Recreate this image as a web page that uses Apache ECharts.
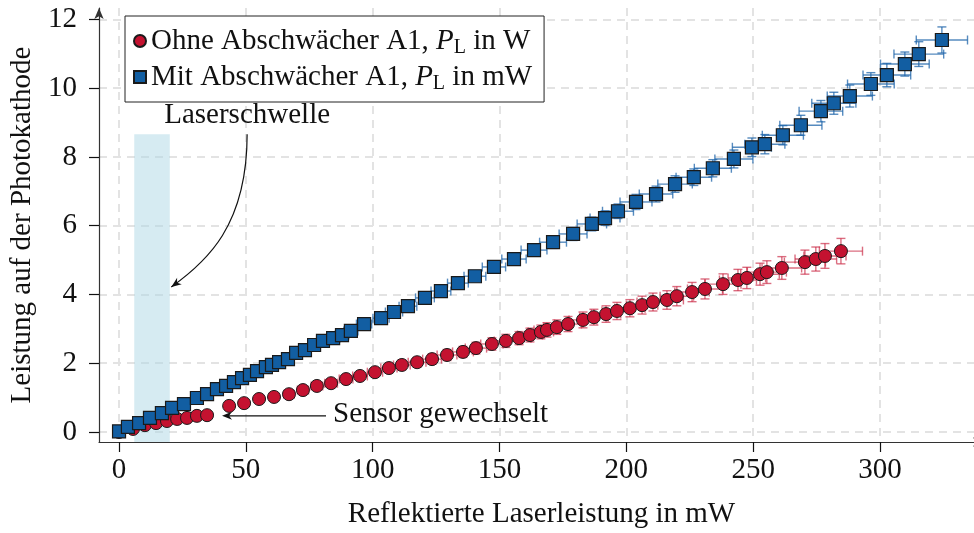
<!DOCTYPE html>
<html>
<head>
<meta charset="utf-8">
<script src="https://cdn.jsdelivr.net/npm/echarts@6/dist/echarts.min.js"></script>
<style>
  html, body { margin: 0; padding: 0; background: #fff; }
  #chart { width: 974px; height: 533px; }
</style>
</head>
<body>
<div id="chart"></div>
<script>
// Measured power on the photocathode vs. reflected laser power
const FONT = '"Liberation Serif", "DejaVu Serif", serif';

// With attenuator A1 (P_L in mW)
const blueX = [0, 3.5, 7.9, 12.2, 16.9, 20.9, 25.6, 30.7, 34.7, 38.6,
  42.2, 45.3, 48.5, 51.6, 54.4, 57.9, 60.3, 63.1, 66.6, 69.8,
  73.3, 76.9, 80.4, 84.4, 87.9, 91.4, 96.6, 103.3, 108.4, 113.9,
  120.6, 126.9, 133.6, 140.3, 147.8, 155.7, 163.6, 171.1, 179.0, 186.4,
  191.6, 196.7, 203.8, 211.7, 219.2, 226.6, 234.1, 242.4, 249.5, 254.6,
  261.7, 268.8, 276.7, 281.8, 288.1, 296.4, 302.7, 309.8, 315.3, 324.4];
const blueY = [0.02, 0.15, 0.26, 0.41, 0.55, 0.70, 0.81, 0.99, 1.10, 1.25,
  1.34, 1.45, 1.57, 1.66, 1.77, 1.89, 1.95, 2.03, 2.12, 2.30,
  2.38, 2.53, 2.65, 2.73, 2.82, 2.94, 3.14, 3.31, 3.49, 3.66,
  3.90, 4.10, 4.33, 4.53, 4.80, 5.03, 5.29, 5.52, 5.76, 6.05,
  6.22, 6.42, 6.69, 6.92, 7.21, 7.41, 7.67, 7.94, 8.28, 8.37,
  8.63, 8.92, 9.33, 9.56, 9.77, 10.12, 10.38, 10.70, 10.99, 11.40];
const blueXErr = [0, 0.1, 0.2, 0.4, 0.5, 0.6, 0.8, 1.0, 1.1, 1.2,
  1.3, 1.4, 1.5, 1.6, 1.7, 1.8, 1.9, 2.0, 2.1, 2.2,
  2.3, 2.4, 2.5, 2.6, 2.7, 2.8, 3.0, 3.2, 3.4, 3.5,
  3.7, 3.9, 4.1, 4.3, 4.6, 4.8, 5.1, 5.3, 5.5, 5.8,
  5.9, 6.1, 6.3, 6.6, 6.8, 7.0, 7.3, 7.5, 7.7, 7.9,
  8.1, 8.3, 8.6, 8.7, 8.9, 9.2, 9.4, 9.6, 9.8, 10.1];
const blueYErr = [0.00, 0.00, 0.01, 0.01, 0.02, 0.02, 0.03, 0.03, 0.04, 0.04,
  0.04, 0.05, 0.05, 0.05, 0.06, 0.06, 0.06, 0.07, 0.07, 0.08,
  0.08, 0.08, 0.09, 0.09, 0.09, 0.10, 0.10, 0.11, 0.12, 0.12,
  0.13, 0.14, 0.14, 0.15, 0.16, 0.17, 0.17, 0.18, 0.19, 0.20,
  0.21, 0.21, 0.22, 0.23, 0.24, 0.24, 0.25, 0.26, 0.27, 0.28,
  0.28, 0.29, 0.31, 0.32, 0.32, 0.33, 0.34, 0.35, 0.36, 0.38];

// Without attenuator (P_L in W)
const redX = [0, 5.5, 10.2, 14.6, 18.9, 22.9, 26.8, 30.7, 34.7, 43.4,
  49.3, 55.2, 61.1, 67.0, 72.5, 78.0, 83.6, 89.5, 95.0, 100.9,
  106.4, 111.5, 117.5, 123.4, 129.3, 135.6, 140.7, 147.0, 152.5, 157.7,
  162.0, 166.3, 168.7, 172.6, 177.0, 182.9, 187.2, 192.0, 196.3, 201.4,
  206.2, 210.5, 216.0, 219.9, 225.9, 231.0, 238.1, 244.0, 247.5, 252.7,
  255.4, 261.3, 270.4, 274.7, 278.3, 284.6];
const redY = [0, 0.09, 0.20, 0.26, 0.32, 0.38, 0.41, 0.47, 0.49, 0.76,
  0.84, 0.96, 1.02, 1.10, 1.22, 1.34, 1.42, 1.54, 1.63, 1.74,
  1.86, 1.95, 2.03, 2.12, 2.24, 2.33, 2.44, 2.56, 2.65, 2.73,
  2.82, 2.91, 2.97, 3.05, 3.14, 3.26, 3.34, 3.43, 3.52, 3.60,
  3.69, 3.78, 3.84, 3.95, 4.07, 4.16, 4.30, 4.42, 4.48, 4.59,
  4.65, 4.77, 4.94, 5.03, 5.12, 5.26];
const redXErr = [0, 0.2, 0.3, 0.4, 0.6, 0.7, 0.8, 0.9, 1.0, 1.3,
  1.5, 1.7, 1.8, 2.0, 2.2, 2.3, 2.5, 2.7, 2.9, 3.0,
  3.2, 3.3, 3.5, 3.7, 3.9, 4.1, 4.2, 4.4, 4.6, 4.7,
  4.9, 5.0, 5.1, 5.2, 5.3, 5.5, 5.6, 5.8, 5.9, 6.0,
  6.2, 6.3, 6.5, 6.6, 6.8, 6.9, 7.1, 7.3, 7.4, 7.6,
  7.7, 7.8, 8.1, 8.2, 8.3, 8.5];
const redYErr = [0, 0.01, 0.01, 0.02, 0.02, 0.03, 0.03, 0.03, 0.03, 0.05,
  0.06, 0.07, 0.07, 0.08, 0.09, 0.09, 0.10, 0.11, 0.11, 0.12,
  0.13, 0.14, 0.14, 0.15, 0.16, 0.16, 0.17, 0.18, 0.19, 0.19,
  0.20, 0.20, 0.21, 0.21, 0.22, 0.23, 0.23, 0.24, 0.25, 0.25,
  0.26, 0.26, 0.27, 0.28, 0.28, 0.29, 0.30, 0.31, 0.31, 0.32,
  0.33, 0.33, 0.35, 0.35, 0.36, 0.37];

// Tick values
const xTicks = [0, 50, 100, 150, 200, 250, 300];
const yTicks = [0, 2, 4, 6, 8, 10, 12];

// Laser threshold band: [from, to, upper edge]
const thresholdBand = [[6, 20, 8.66]];

const xRange = [-7.9, 341.0];
const yRange = [-0.29, 12.33];

const RED = '#c41230';
const BLUE = '#125ea2';

function zip(a, b, c, d) {
  return a.map((v, i) => c ? [v, b[i], c[i], d[i]] : [v, b[i]]);
}

function errorBars(color) {
  return function (params, api) {
    const x = api.value(0), y = api.value(1), ex = api.value(2), ey = api.value(3);
    const style = { stroke: color, lineWidth: 1.4 };
    const cap = 4.5;
    const children = [];
    if (ex > 0) {
      const l = api.coord([x - ex, y]), r = api.coord([x + ex, y]);
      children.push({ type: 'line', shape: { x1: l[0], y1: l[1], x2: r[0], y2: r[1] }, style });
      children.push({ type: 'line', shape: { x1: l[0], y1: l[1] - cap, x2: l[0], y2: l[1] + cap }, style });
      children.push({ type: 'line', shape: { x1: r[0], y1: r[1] - cap, x2: r[0], y2: r[1] + cap }, style });
    }
    if (ey > 0) {
      const t = api.coord([x, y + ey]), b = api.coord([x, y - ey]);
      children.push({ type: 'line', shape: { x1: t[0], y1: t[1], x2: b[0], y2: b[1] }, style });
      children.push({ type: 'line', shape: { x1: t[0] - cap, y1: t[1], x2: t[0] + cap, y2: t[1] }, style });
      children.push({ type: 'line', shape: { x1: b[0] - cap, y1: b[1], x2: b[0] + cap, y2: b[1] }, style });
    }
    return { type: 'group', children };
  };
}

const chart = echarts.init(document.getElementById('chart'), null, { renderer: 'canvas' });

const legendRich = {
  n: { fontFamily: FONT, fontSize: 29, color: '#111', lineHeight: 32 },
  i: { fontFamily: FONT, fontSize: 29, color: '#111', fontStyle: 'italic', lineHeight: 32 },
  s: { fontFamily: FONT, fontSize: 20, color: '#111', lineHeight: 20, padding: [14, 0, 0, 0] }
};

const axisText = { fontFamily: FONT, fontSize: 29, color: '#111' };

chart.setOption({
  animation: false,
  backgroundColor: '#fff',
  grid: { left: 99, top: 8, width: 885, height: 434, containLabel: false, outerBoundsMode: 'none' },
  xAxis: {
    type: 'value',
    min: xRange[0], max: xRange[1],
    name: 'Reflektierte Laserleistung in mW',
    nameLocation: 'middle',
    nameGap: 58,
    nameTextStyle: axisText,
    axisLine: { show: true, onZero: false, symbol: ['none', 'arrow'], symbolSize: [7, 11],
      lineStyle: { color: '#333', width: 1.2 } },
    axisTick: { show: true, length: 10, customValues: xTicks, lineStyle: { color: '#111', width: 1.2 } },
    axisLabel: { customValues: xTicks, margin: 14, ...axisText },
    splitLine: { show: true, lineStyle: { color: '#e3e3e3', width: 2, type: [8, 6] } }
  },
  yAxis: {
    type: 'value',
    min: yRange[0], max: yRange[1],
    name: 'Leistung auf der Photokathode',
    nameLocation: 'middle',
    nameGap: 62,
    nameRotate: 90,
    nameTextStyle: axisText,
    axisLine: { show: true, onZero: false, symbol: ['none', 'arrow'], symbolSize: [7, 11],
      lineStyle: { color: '#333', width: 1.2 } },
    axisTick: { show: true, length: 10, customValues: yTicks, lineStyle: { color: '#111', width: 1.2 } },
    axisLabel: { customValues: yTicks, margin: 22, ...axisText },
    splitLine: { show: true, lineStyle: { color: '#e3e3e3', width: 2, type: [8, 6] } }
  },
  legend: {
    orient: 'vertical',
    left: 125, top: 16,
    padding: [8, 12, 8, 8],
    itemGap: 2,
    itemWidth: 12, itemHeight: 12,
    backgroundColor: '#fff',
    borderColor: '#222', borderWidth: 1, borderRadius: 0,
    data: [
      { name: 'ohne', icon: 'circle' },
      { name: 'mit', icon: 'rect' }
    ],
    formatter: function (name) {
      return name === 'ohne'
        ? '{n|Ohne Abschwächer A1, }{i|P}{s|L}{n| in W}'
        : '{n|Mit Abschwächer A1, }{i|P}{s|L}{n| in mW}';
    },
    textStyle: { rich: legendRich }
  },
  series: [
    {
      // shaded laser threshold region
      type: 'custom',
      silent: true,
      z: 1,
      data: thresholdBand,
      encode: { x: [0, 1], y: 2 },
      renderItem: function (params, api) {
        const a = api.coord([api.value(0), api.value(2)]);
        const b = api.coord([api.value(1), yRange[0]]);
        return { type: 'rect', shape: { x: a[0], y: a[1], width: b[0] - a[0], height: b[1] - a[1] },
          style: { fill: 'rgba(173,216,230,0.5)' } };
      }
    },
    {
      type: 'custom', name: 'ohneErr', silent: true, z: 2,
      data: zip(redX, redY, redXErr, redYErr),
      encode: { x: 0, y: 1 },
      renderItem: errorBars('rgba(200,30,60,0.65)')
    },
    {
      type: 'scatter', name: 'ohne', z: 3,
      symbol: 'circle', symbolSize: 13,
      data: zip(redX, redY),
      itemStyle: { color: RED, borderColor: '#1a1a1a', borderWidth: 1, opacity: 1 }
    },
    {
      type: 'custom', name: 'mitErr', silent: true, z: 4,
      data: zip(blueX, blueY, blueXErr, blueYErr),
      encode: { x: 0, y: 1 },
      renderItem: errorBars('rgba(30,100,170,0.75)')
    },
    {
      type: 'scatter', name: 'mit', z: 5,
      symbol: 'rect', symbolSize: 13,
      data: zip(blueX, blueY),
      itemStyle: { color: BLUE, borderColor: '#1a1a1a', borderWidth: 1.2, opacity: 1 }
    }
  ]
});

// Annotations placed through the axes' own coordinate conversion
function px(p) { return chart.convertToPixel({ gridIndex: 0 }, p); }

function arrowHead(tip, from, len, half) {
  const dx = tip[0] - from[0], dy = tip[1] - from[1];
  const d = Math.hypot(dx, dy) || 1;
  const ux = dx / d, uy = dy / d;
  const bx = tip[0] - ux * len, by = tip[1] - uy * len;
  const nx = -uy, ny = ux;
  return [
    [tip[0], tip[1]],
    [bx + nx * half, by + ny * half],
    [tip[0] - ux * len * 0.7, tip[1] - uy * len * 0.7],
    [bx - nx * half, by - ny * half]
  ];
}

const curveStart = px([50.5, 8.66]);
const curveC1 = px([50.5, 6.0]);
const curveC2 = px([34.5, 4.95]);
const curveEnd = px([20.6, 4.22]);
const labelPos = px([50.5, 9.22]);

const sensorTip = px([40.6, 0.47]);
const sensorFrom = px([81.6, 0.47]);
const sensorText = px([84.4, 0.52]);

const textStyle = (t, p, align) => ({
  text: t, x: p[0], y: p[1],
  font: '29px ' + FONT, fill: '#111',
  textAlign: align, textVerticalAlign: 'middle',
  align: align, verticalAlign: 'middle'
});

chart.setOption({
  graphic: [
    { type: 'text', z: 10, style: textStyle('Laserschwelle', labelPos, 'center') },
    {
      type: 'bezierCurve', z: 10,
      shape: { x1: curveStart[0], y1: curveStart[1], cpx1: curveC1[0], cpy1: curveC1[1],
        cpx2: curveC2[0], cpy2: curveC2[1], x2: curveEnd[0], y2: curveEnd[1] },
      style: { stroke: '#111', lineWidth: 1.2, fill: null }
    },
    { type: 'polygon', z: 10, shape: { points: arrowHead(curveEnd, curveC2, 10, 4) }, style: { fill: '#111' } },
    {
      type: 'line', z: 10,
      shape: { x1: sensorFrom[0], y1: sensorFrom[1], x2: sensorTip[0] + 6, y2: sensorTip[1] },
      style: { stroke: '#111', lineWidth: 1.2 }
    },
    { type: 'polygon', z: 10, shape: { points: arrowHead(sensorTip, sensorFrom, 10, 4) }, style: { fill: '#111' } },
    { type: 'text', z: 10, style: textStyle('Sensor gewechselt', sensorText, 'left') }
  ]
});
</script>
</body>
</html>
